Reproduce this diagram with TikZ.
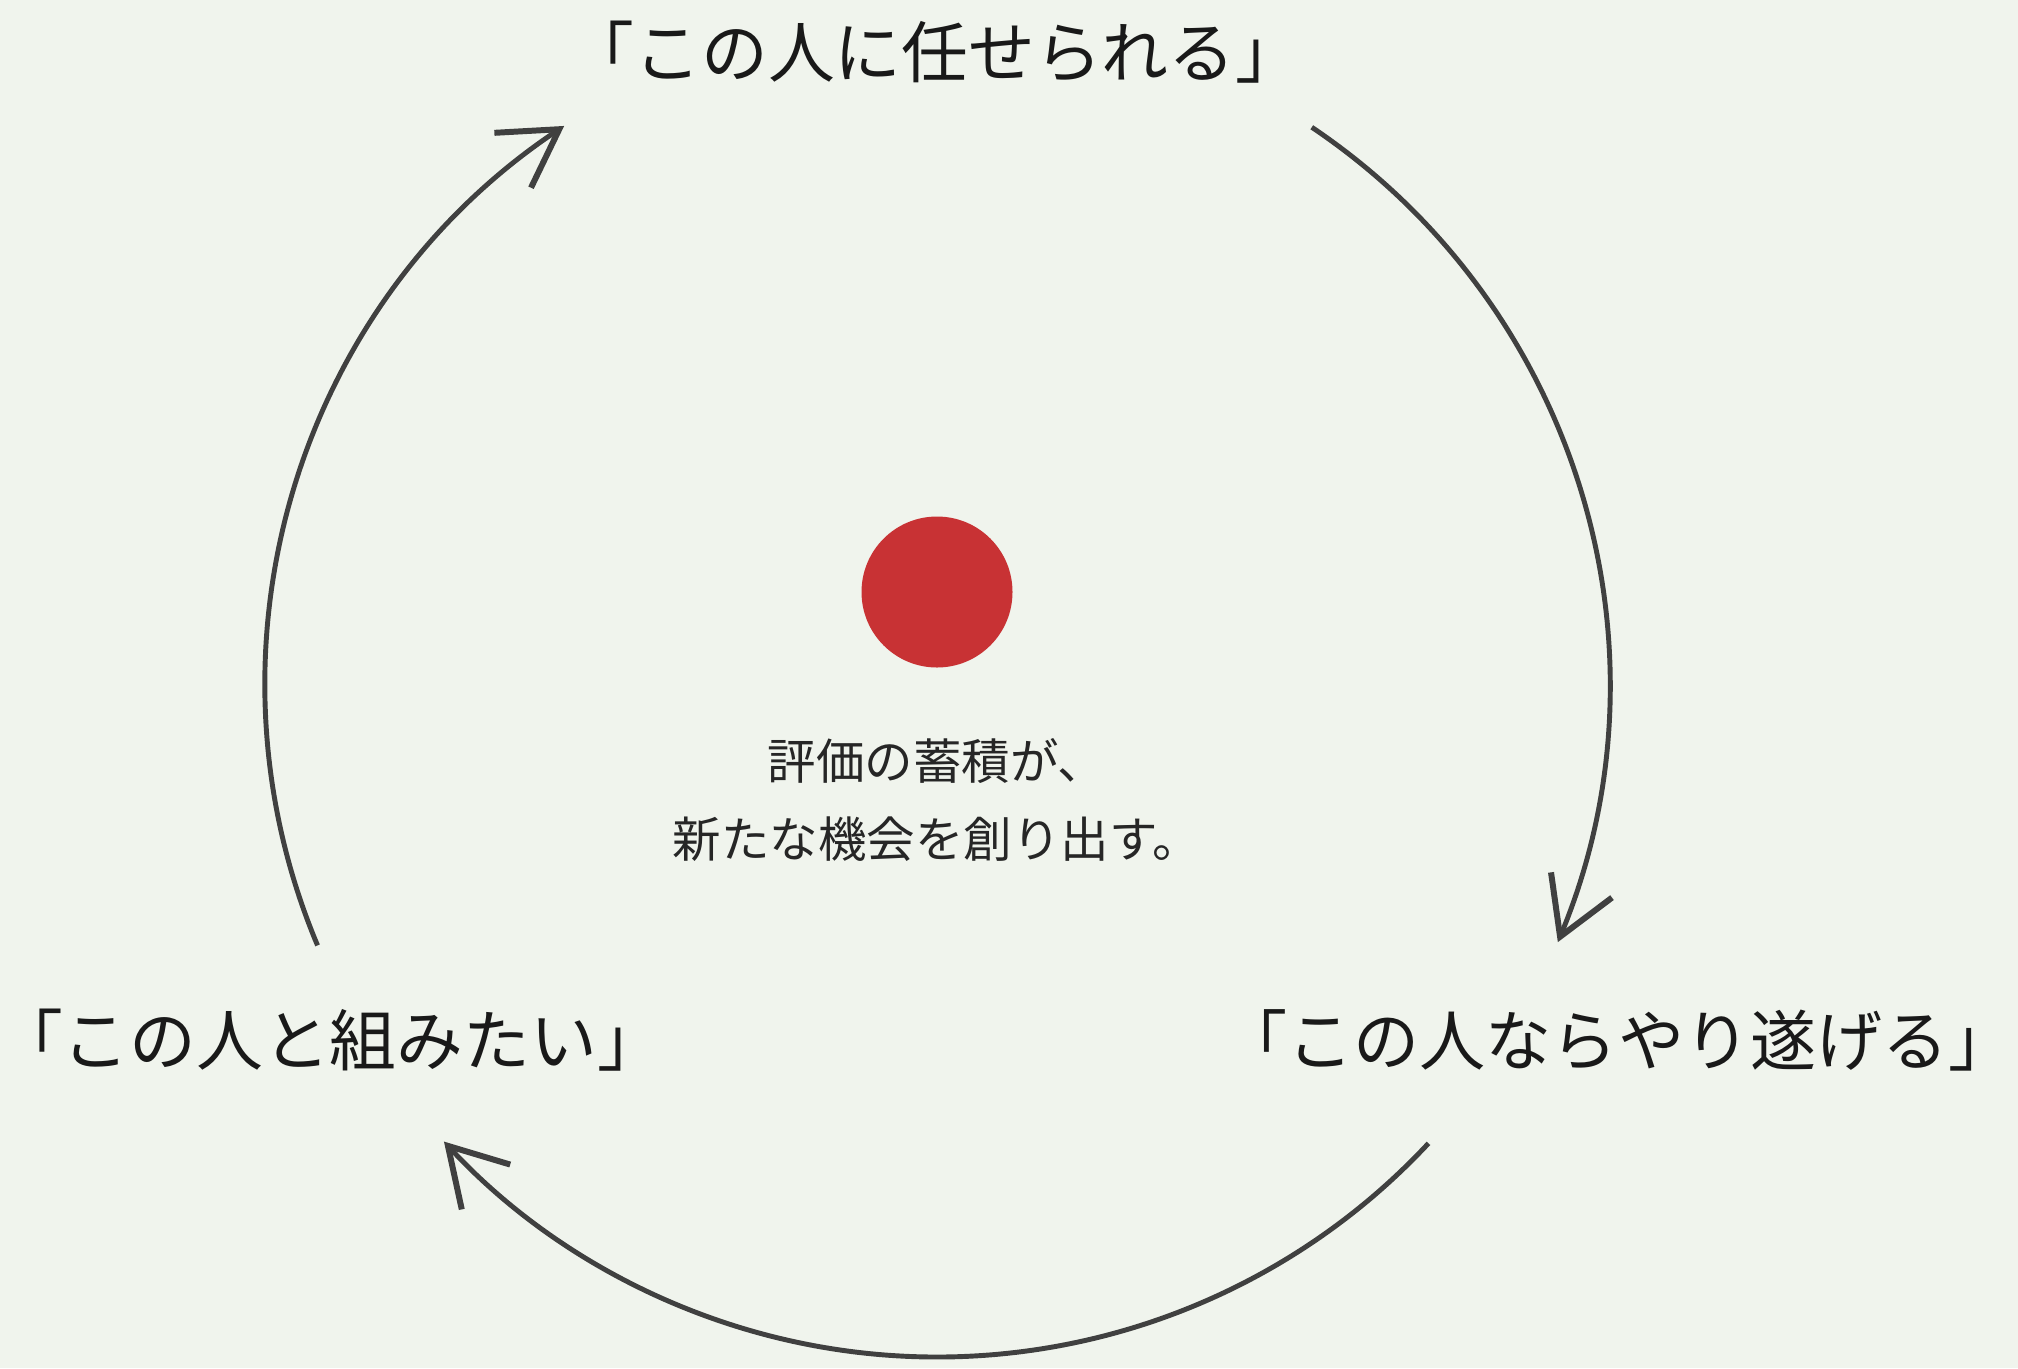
\documentclass[tikz,border=0pt]{standalone}
\usepackage{fontspec}
\newfontfamily\jpfont{Noto Sans CJK JP}
\usetikzlibrary{arrows.meta,calc}
\usepackage{xcolor}
\definecolor{paper}{RGB}{240,244,237}
\definecolor{dotred}{RGB}{200,50,52}
\definecolor{ink}{RGB}{64,64,64}

\begin{document}
\begin{tikzpicture}[>={Straight Barb[length=0.56cm,width=0.66cm,line width=1.7pt]},
				cyclabel/.style={text=black!90,inner sep=0pt,font=\jpfont\fontsize{19pt}{22pt}\selectfont},
				msgtext/.style={text=black!85,inner sep=0pt,align=center,font=\jpfont\fontsize{13.8pt}{22pt}\selectfont},
				cycarrow/.style={->,draw=ink,line width=1.4pt}]
				  \fill[paper] (0,0) rectangle (20.18,-13.68);
				  \useasboundingbox (0,0) rectangle (20.18,-13.68);

				  \coordinate (hub) at (9.37,-6.85);
				  \node[circle,fill=dotred,minimum size=1.51cm,inner sep=0pt] (dot) at (9.37,-5.92) {};
				  \node[msgtext] (msg) at (9.37,-8.0) {評価の蓄積が、\\新たな機会を創り出す。};

				  \node[cyclabel] (trust)  at (9.35,-0.52)  {「この人に任せられる」};
				  \node[cyclabel,font=\jpfont\fontsize{18.8pt}{22pt}\selectfont] (finish) at (16.18,-10.40) {「この人ならやり遂げる」};
				  \node[cyclabel] (team)   at (3.30,-10.40)  {「この人と組みたい」};

				  \coordinate (teamout)   at ($(hub)+(202.8:6.72)$);
				  \coordinate (trustout)  at ($(hub)+(56.1:6.72)$);
				  \coordinate (finishout) at ($(hub)+(-43:6.72)$);

				\draw[cycarrow] (teamout)   arc[start angle=202.8,end angle=123.7,radius=6.72];
				\draw[cycarrow] (trustout)  arc[start angle=56.1,end angle=-22.5,radius=6.72];
				\draw[cycarrow] (finishout) arc[start angle=-43,end angle=-137.2,radius=6.72];
			\end{tikzpicture}
\end{document}
